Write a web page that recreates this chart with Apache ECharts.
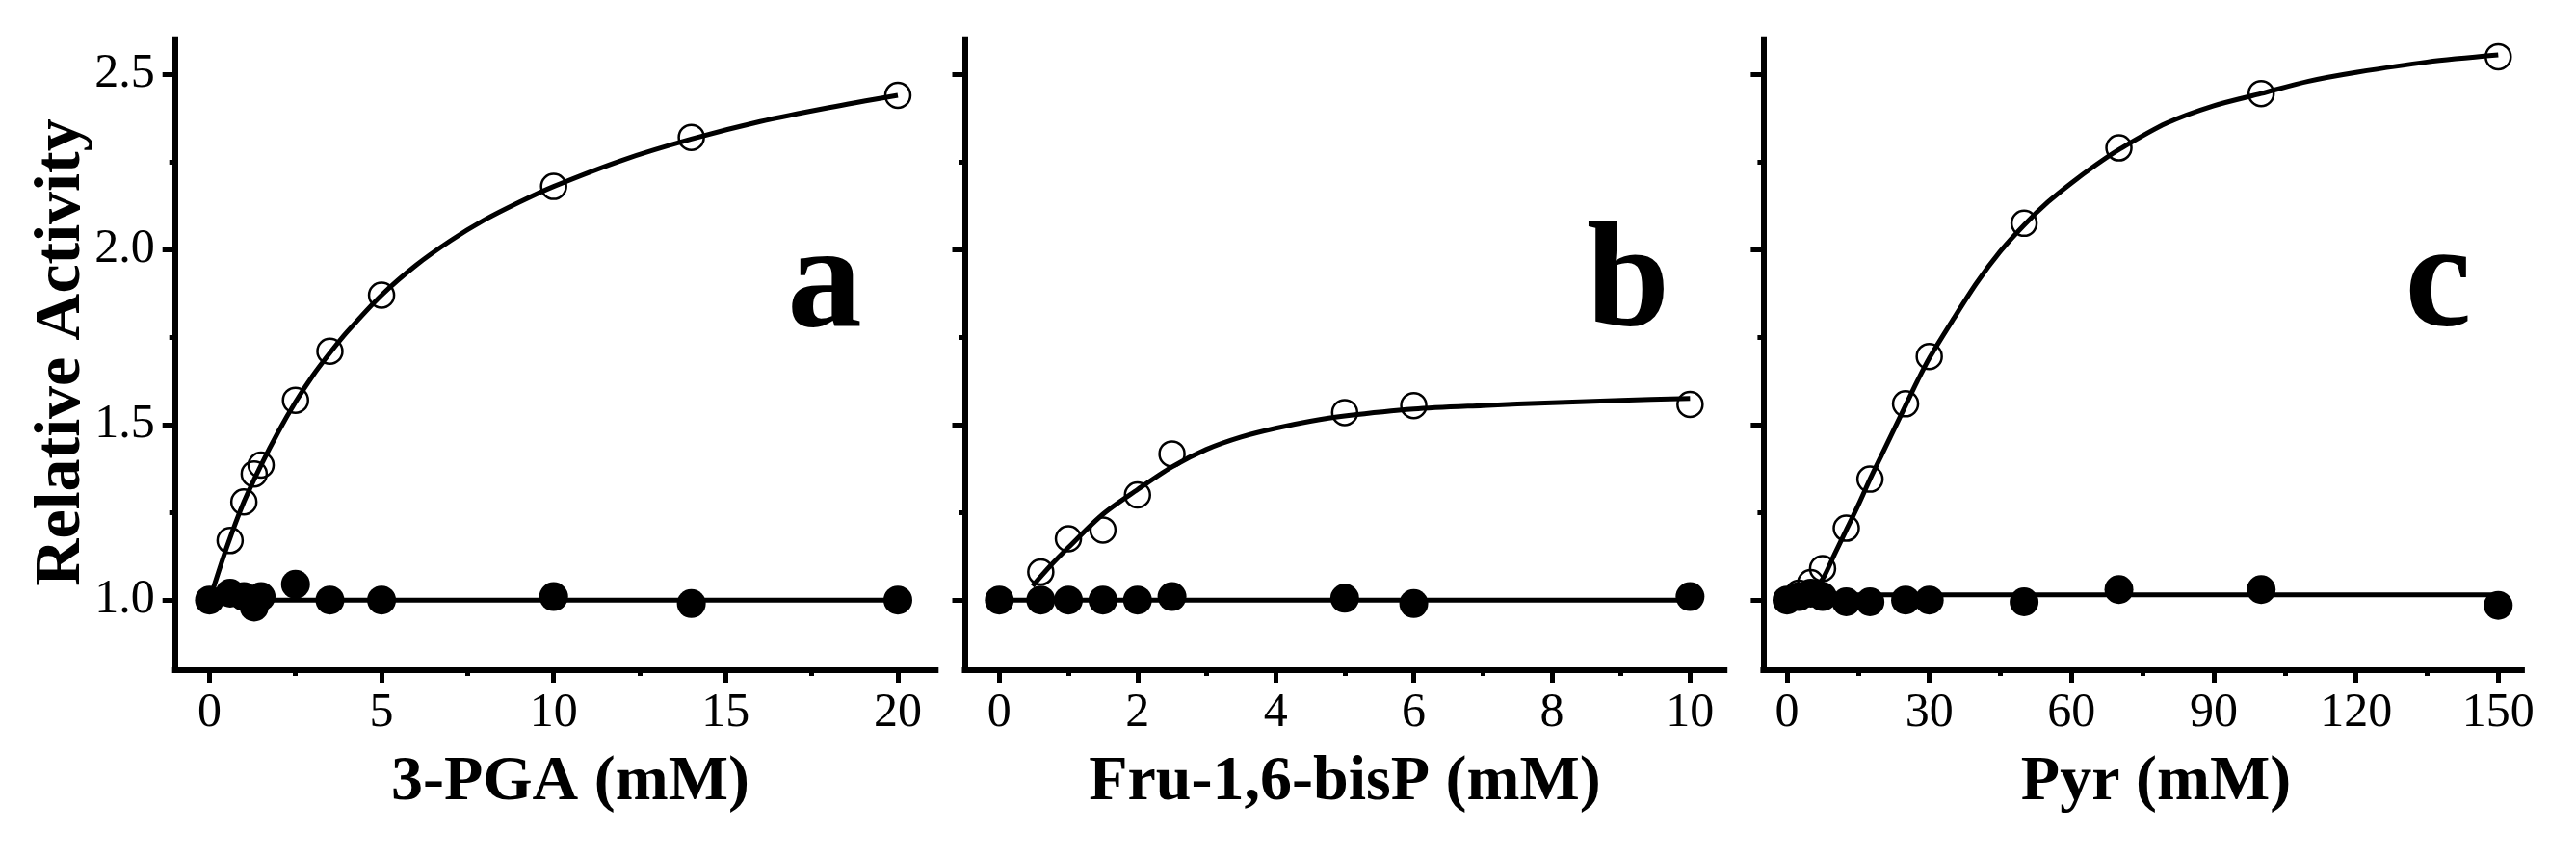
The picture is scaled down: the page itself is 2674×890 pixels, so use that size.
<!DOCTYPE html>
<html>
<head>
<meta charset="utf-8">
<script src="https://cdn.jsdelivr.net/npm/echarts@6/dist/echarts.min.js"></script>
<style>
html,body{margin:0;padding:0;background:#fff;}
#chart{width:2674px;height:890px;}
</style>
</head>
<body>
<div id="chart"></div>
<script>
// ---- Panel a: 3-PGA ----
const aOpenX = [0.6, 1, 1.3, 1.5, 2.5, 3.5, 5, 10, 14, 20];
const aOpenY = [1.17, 1.28, 1.36, 1.385, 1.57, 1.71, 1.87, 2.18, 2.32, 2.44];
const aFillX = [0, 0.6, 1, 1.3, 1.5, 2.5, 3.5, 5, 10, 14, 20];
const aFillY = [1.0, 1.02, 1.01, 0.98, 1.01, 1.045, 1.0, 1.0, 1.01, 0.99, 1.0];
const aCurveX = [0.1, 0.5, 1, 1.5, 2, 2.5, 3, 3.5, 4, 5, 6, 7, 8, 9, 10, 12, 14, 16, 18, 20];
const aCurveY = [1.03, 1.15, 1.28, 1.385, 1.48, 1.565, 1.64, 1.705, 1.765, 1.87, 1.955, 2.025, 2.085, 2.135, 2.18, 2.255, 2.315, 2.365, 2.405, 2.44];
const aFlatX = [0, 20];
const aFlatY = [1.0, 1.0];
const aMajorX = [0, 5, 10, 15, 20];
const aMinorX = [2.5, 7.5, 12.5, 17.5];

// ---- Panel b: Fru-1,6-bisP ----
const bOpenX = [0.6, 1, 1.5, 2, 2.5, 5, 6, 10];
const bOpenY = [1.08, 1.175, 1.2, 1.30, 1.417, 1.535, 1.555, 1.558];
const bFillX = [0, 0.6, 1, 1.5, 2, 2.5, 5, 6, 10];
const bFillY = [1.0, 1.0, 1.0, 1.0, 1.0, 1.01, 1.005, 0.99, 1.01];
const bCurveX = [0.48, 0.75, 1, 1.5, 2, 2.5, 3, 3.5, 4, 4.5, 5, 6, 7, 8, 9, 10];
const bCurveY = [1.04, 1.10, 1.15, 1.245, 1.315, 1.38, 1.43, 1.465, 1.49, 1.51, 1.525, 1.545, 1.555, 1.563, 1.57, 1.575];
const bFlatX = [0, 10];
const bFlatY = [1.0, 1.0];
const bMajorX = [0, 2, 4, 6, 8, 10];
const bMinorX = [1, 3, 5, 7, 9];

// ---- Panel c: Pyr ----
const cOpenX = [2.5, 5, 7.5, 12.5, 17.5, 25, 30, 50, 70, 100, 150];
const cOpenY = [1.02, 1.05, 1.09, 1.205, 1.345, 1.56, 1.695, 2.075, 2.29, 2.445, 2.55];
const cFillX = [0, 2.5, 5, 7.5, 12.5, 17.5, 25, 30, 50, 70, 100, 150];
const cFillY = [1.0, 1.01, 1.02, 1.01, 0.995, 0.995, 1.0, 1.0, 0.995, 1.03, 1.03, 0.985];
const cCurveX = [3, 5, 7.5, 10, 12.5, 15, 17.5, 20, 22.5, 25, 27.5, 30, 35, 40, 45, 50, 55, 60, 65, 70, 80, 90, 100, 110, 120, 135, 150];
const cCurveY = [1.0, 1.02, 1.06, 1.13, 1.2, 1.27, 1.345, 1.415, 1.485, 1.555, 1.625, 1.69, 1.80, 1.905, 1.995, 2.07, 2.135, 2.19, 2.24, 2.285, 2.36, 2.41, 2.445, 2.48, 2.505, 2.535, 2.555];
const cFlatX = [0, 150];
const cFlatY = [1.015, 1.015];
const cMajorX = [0, 30, 60, 90, 120, 150];
const cMinorX = [15, 45, 75, 105, 135];

// ---- shared y axis ----
const yMajor = [1.0, 1.5, 2.0, 2.5];
const yMinor = [1.25, 1.75, 2.25];

const xTitles = ['3-PGA (mM)', 'Fru-1,6-bisP (mM)', 'Pyr (mM)'];
const panelLetters = ['a', 'b', 'c'];
const yTitle = 'Relative Activity';

const FONT = 'Liberation Serif';
const zip = (xs, ys) => xs.map((x, i) => [x, ys[i]]);

const grids = [
  {left: 181.7, top: 40.7, width: 789.6, height: 655.3},
  {left: 1001.5, top: 40.7, width: 788.7, height: 655.3},
  {left: 1830.4, top: 40.7, width: 787.5, height: 655.3}
];
const xRanges = [[-1, 21.1], [-0.5, 10.5], [-5, 155]];
const majorXs = [aMajorX, bMajorX, cMajorX];
const minorXs = [aMinorX, bMinorX, cMinorX];

const xAxis = [], yAxis = [], series = [];
const axisLineStyle = {color: '#000', width: 6, cap: 'square'};
grids.forEach((g, i) => {
  xAxis.push({
    type: 'value', gridIndex: i, position: 'bottom', min: xRanges[i][0], max: xRanges[i][1],
    splitLine: {show: false},
    axisLine: {show: true, onZero: false, lineStyle: axisLineStyle},
    axisTick: {show: true, inside: false, length: 13, customValues: majorXs[i], lineStyle: {color: '#000', width: 5}},
    axisLabel: {show: true, customValues: majorXs[i], margin: 20, color: '#000', fontFamily: FONT, fontSize: 50}
  });
  xAxis.push({
    type: 'value', gridIndex: i, position: 'bottom', min: xRanges[i][0], max: xRanges[i][1],
    splitLine: {show: false},
    axisLine: {show: false, onZero: false},
    axisTick: {show: true, inside: false, length: 6, customValues: minorXs[i], lineStyle: {color: '#000', width: 5}},
    axisLabel: {show: false}
  });
  yAxis.push({
    type: 'value', gridIndex: i, position: 'left', min: 0.8, max: 2.6,
    splitLine: {show: false},
    axisLine: {show: true, onZero: false, lineStyle: axisLineStyle},
    axisTick: {show: true, inside: false, length: 13, customValues: yMajor, lineStyle: {color: '#000', width: 5}},
    axisLabel: {show: i === 0, customValues: yMajor, margin: 21, color: '#000', fontFamily: FONT, fontSize: 50,
      formatter: v => Number(v).toFixed(1)}
  });
  yAxis.push({
    type: 'value', gridIndex: i, position: 'left', min: 0.8, max: 2.6,
    splitLine: {show: false},
    axisLine: {show: false, onZero: false},
    axisTick: {show: true, inside: false, length: 6, customValues: yMinor, lineStyle: {color: '#000', width: 5}},
    axisLabel: {show: false}
  });
});

const panels = [
  {open: zip(aOpenX, aOpenY), fill: zip(aFillX, aFillY), curve: zip(aCurveX, aCurveY), flat: zip(aFlatX, aFlatY)},
  {open: zip(bOpenX, bOpenY), fill: zip(bFillX, bFillY), curve: zip(bCurveX, bCurveY), flat: zip(bFlatX, bFlatY)},
  {open: zip(cOpenX, cOpenY), fill: zip(cFillX, cFillY), curve: zip(cCurveX, cCurveY), flat: zip(cFlatX, cFlatY)}
];
panels.forEach((p, i) => {
  const xi = i * 2, yi = i * 2;
  series.push({type: 'line', xAxisIndex: xi, yAxisIndex: yi, data: p.curve, smooth: 0.3,
    showSymbol: false, lineStyle: {color: '#000', width: 5}, z: 2, silent: true});
  series.push({type: 'line', xAxisIndex: xi, yAxisIndex: yi, data: p.flat,
    showSymbol: false, lineStyle: {color: '#000', width: 5}, z: 2, silent: true});
  series.push({type: 'scatter', xAxisIndex: xi, yAxisIndex: yi, data: p.open, symbol: 'circle', symbolSize: 26,
    itemStyle: {color: 'rgba(255,255,255,0)', borderColor: '#000', borderWidth: 2.5, opacity: 1}, z: 3, silent: true});
  series.push({type: 'scatter', xAxisIndex: xi, yAxisIndex: yi, data: p.fill, symbol: 'circle', symbolSize: 30,
    itemStyle: {color: '#000', opacity: 1}, z: 4, silent: true});
});

const titleX = [592, 1396, 2238];
const letterX = [856, 1690, 2531];
const graphic = [];
xTitles.forEach((t, i) => {
  graphic.push({type: 'text', x: titleX[i], y: 813, style: {text: t, fill: '#000', font: 'bold 66px "' + FONT + '"', align: 'center', verticalAlign: 'middle'}});
  graphic.push({type: 'text', x: letterX[i], y: 298, style: {text: panelLetters[i], fill: '#000', font: 'bold 155px "' + FONT + '"', align: 'center', verticalAlign: 'middle'}});
});
graphic.push({type: 'text', x: 64, y: 366, rotation: Math.PI / 2,
  style: {text: yTitle, fill: '#000', font: 'bold 68px "' + FONT + '"', align: 'center', verticalAlign: 'middle'}});

const chart = echarts.init(document.getElementById('chart'), null, {renderer: 'canvas'});
chart.setOption({
  animation: false,
  backgroundColor: '#fff',
  grid: grids,
  xAxis: xAxis,
  yAxis: yAxis,
  series: series,
  graphic: graphic
});
</script>
</body>
</html>
